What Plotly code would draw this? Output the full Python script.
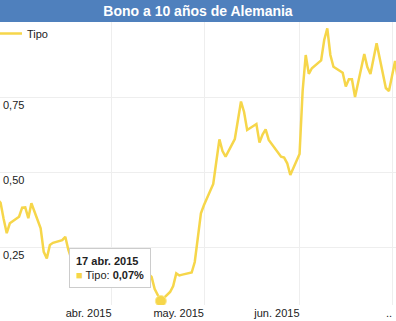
import plotly.graph_objects as go

# ---------------- data ----------------
dates = [
    "2015-02-23", "2015-02-24", "2015-02-25", "2015-02-26", "2015-02-27",
    "2015-03-02", "2015-03-03", "2015-03-04", "2015-03-05", "2015-03-06",
    "2015-03-09", "2015-03-10", "2015-03-11", "2015-03-12", "2015-03-13",
    "2015-03-16", "2015-03-17", "2015-03-18", "2015-03-19", "2015-03-20",
    "2015-03-23", "2015-03-24", "2015-03-25", "2015-03-26", "2015-03-27",
    "2015-03-30", "2015-03-31", "2015-04-01", "2015-04-02",
    "2015-04-07", "2015-04-08", "2015-04-09", "2015-04-10",
    "2015-04-13", "2015-04-14", "2015-04-15", "2015-04-16", "2015-04-17",
    "2015-04-20", "2015-04-21", "2015-04-22", "2015-04-23", "2015-04-24",
    "2015-04-27", "2015-04-28", "2015-04-29", "2015-04-30", "2015-05-01",
    "2015-05-04", "2015-05-05", "2015-05-06", "2015-05-07", "2015-05-08",
    "2015-05-11", "2015-05-12", "2015-05-13", "2015-05-14", "2015-05-15",
    "2015-05-18", "2015-05-19", "2015-05-20", "2015-05-21", "2015-05-22",
    "2015-05-25", "2015-05-26", "2015-05-27", "2015-05-28", "2015-05-29",
    "2015-06-01", "2015-06-02", "2015-06-03", "2015-06-04", "2015-06-05",
    "2015-06-08", "2015-06-09", "2015-06-10", "2015-06-11", "2015-06-12",
    "2015-06-15", "2015-06-16", "2015-06-17", "2015-06-18", "2015-06-19",
    "2015-06-22", "2015-06-23", "2015-06-24", "2015-06-25", "2015-06-26",
    "2015-06-29", "2015-06-30", "2015-07-01", "2015-07-02", "2015-07-03",
]
tipo = [
    0.41, 0.397, 0.343, 0.296, 0.329,
    0.351, 0.381, 0.382, 0.346, 0.396,
    0.312, 0.234, 0.212, 0.257, 0.264,
    0.273, 0.284, 0.24, 0.21, 0.20,
    0.21, 0.22, 0.21, 0.21, 0.21,
    0.23, 0.19, 0.18, 0.19,
    0.17, 0.16, 0.17, 0.16,
    0.16, 0.15, 0.11, 0.09, 0.07,
    0.10, 0.12, 0.162, 0.155, 0.158,
    0.165, 0.20, 0.275, 0.362, 0.39,
    0.46, 0.535, 0.609, 0.57, 0.551,
    0.61, 0.67, 0.735, 0.70, 0.64,
    0.66, 0.598, 0.625, 0.642, 0.607,
    0.565, 0.551, 0.548, 0.529, 0.49,
    0.56, 0.77, 0.89, 0.827, 0.846,
    0.872, 0.94, 0.979, 0.89, 0.851,
    0.831, 0.785, 0.809, 0.809, 0.75,
    0.893, 0.85, 0.827, 0.88, 0.929,
    0.78, 0.77, 0.82, 0.87, 0.80,
]

month_ticks = ["2015-03-01", "2015-04-01", "2015-05-01", "2015-06-01", "2015-07-01"]
month_labels = ["", "abr. 2015", "may. 2015", "jun. 2015", ".."]
y_ticks = [0.25, 0.50, 0.75]
y_labels = ["0,25", "0,50", "0,75"]

chart_title = "Bono a 10 años de Alemania"
series_name = "Tipo"
tooltip_date = "17 abr. 2015"
tooltip_value = "0,07%"

# ---------------- style ----------------
FONT = "Liberation Sans, Arial, sans-serif"
LINE = "#f6d64a"
BAR = "#4f80bd"
GRID = "#eeeeee"
W, H = 396, 321
T, B = 22, 16
PH = H - T - B

fig = go.Figure()
fig.add_trace(go.Scatter(
    x=dates, y=tipo, mode="lines", name=series_name,
    line=dict(color=LINE, width=2.5), hoverinfo="skip",
))

i_min = tipo.index(min(tipo))
fig.add_trace(go.Scatter(
    x=[dates[i_min]], y=[tipo[i_min]], mode="markers", showlegend=False,
    marker=dict(size=11, color=LINE, line=dict(color="#fbe98f", width=1)),
    hoverinfo="skip",
))

fig.add_annotation(
    x=dates[i_min], y=tipo[i_min], ax=-51, ay=-33,
    showarrow=True, arrowcolor="rgba(0,0,0,0)", arrowwidth=0.1,
    text=(f"<b>{tooltip_date}</b><br>"
          f"<span style='color:{LINE}'>■</span> {series_name}: <b>{tooltip_value}</b>"),
    align="left", bgcolor="white", bordercolor="#cccccc", borderwidth=1,
    borderpad=6, font=dict(family=FONT, size=11, color="#222222"),
)

# title bar
fig.add_shape(
    type="rect", xref="paper", yref="paper",
    x0=0, x1=1, y0=1, y1=1 + T / PH,
    fillcolor=BAR, line=dict(width=0), layer="above",
)

fig.update_layout(
    width=W, height=H,
    margin=dict(l=0, r=0, t=T, b=B, pad=0, autoexpand=False),
    paper_bgcolor="white", plot_bgcolor="white",
    font=dict(family=FONT, size=11, color="#222222"),
    title=dict(text=f"<b>{chart_title}</b>", x=0.5, xanchor="center",
               y=1 - 11 / H, yanchor="middle",
               font=dict(family=FONT, size=14, color="white")),
    showlegend=True,
    legend=dict(x=-13 / W, y=1 + 3 / PH, xanchor="left", yanchor="top",
                bgcolor="rgba(0,0,0,0)", font=dict(size=11, color="#222222"),
                itemwidth=30),
    xaxis=dict(
        type="date",
        range=["2015-02-23 19:30", "2015-07-02 07:00"],
        tickmode="array", tickvals=month_ticks, ticktext=month_labels,
        ticklabelposition="outside left",
        showgrid=True, gridcolor=GRID, gridwidth=1,
        zeroline=False, showline=False, ticks="",
        tickfont=dict(size=11, color="#222222"),
        fixedrange=True,
    ),
    yaxis=dict(
        range=[1 - PH / 300, 1.0],
        tickmode="array", tickvals=y_ticks, ticktext=y_labels,
        ticklabelposition="inside bottom",
        showgrid=True, gridcolor=GRID, gridwidth=1,
        zeroline=False, showline=False, ticks="",
        tickfont=dict(size=11, color="#222222"),
        fixedrange=True,
    ),
)

fig.write_html("out.html", config={"displayModeBar": False})
